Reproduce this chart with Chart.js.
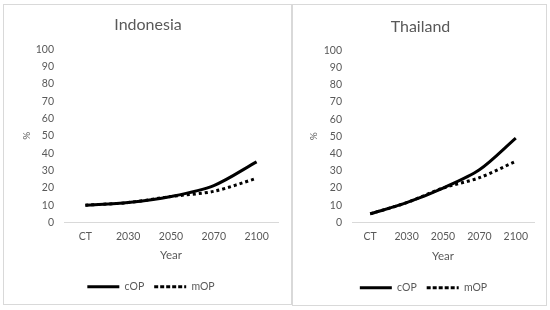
<!DOCTYPE html>
<html>
<head>
<meta charset="utf-8">
<script src="https://cdn.jsdelivr.net/npm/chart.js@4.4.1/dist/chart.umd.min.js"></script>
<style>
    body { margin: 0; background: #ffffff; width: 550px; height: 310px; position: relative; overflow: hidden; }
    .panel { position: absolute; border: 1px solid #d9d9d9; background: #ffffff; }
    #panelLeft { left: 3px; top: 4px; width: 287px; height: 299px; }
    #panelRight { left: 292px; top: 4px; width: 253px; height: 300px; }
    canvas { display: block; }
</style>
</head>
<body>
<div class="panel" id="panelLeft"><canvas id="indonesiaChart" width="287" height="299"></canvas></div>
<div class="panel" id="panelRight"><canvas id="thailandChart" width="253" height="300"></canvas></div>

<script>
// Chart data
const categories = ['CT', '2030', '2050', '2070', '2100'];
const yTicks = [0, 10, 20, 30, 40, 50, 60, 70, 80, 90, 100];

const indonesiaCOP = [10, 11.5, 15, 21.3, 35];
const indonesiaMOP = [10, 11.5, 15, 18, 25.5];

const thailandCOP = [5, 11.5, 20, 30.6, 49];
const thailandMOP = [5, 11.5, 20, 26, 35.5];

const TEXT_GREY = '#595959';
const FONT = 'Lato, "Open Sans", sans-serif';

// Title and legend sit centred on the whole panel, not only on the plot width
const centreOnPanel = {
    id: 'centreOnPanel',
    afterLayout: function(chart, args, opts) {
        if (chart.titleBlock) {
            chart.titleBlock.left += opts.title || 0;
            chart.titleBlock.right += opts.title || 0;
        }
        if (chart.legend) {
            chart.legend.left += opts.legend || 0;
            chart.legend.right += opts.legend || 0;
        }
    }
};

/**
 * Build one country panel chart
 * @param {string} canvasId - canvas element id
 * @param {string} title - chart title
 * @param {number[]} cop - cOP series
 * @param {number[]} mop - mOP series
 * @param {object} lay - layout tweaks for the panel
 */
function initCountryChart(canvasId, title, cop, mop, lay) {
    const ctx = document.getElementById(canvasId);
    if (!ctx) {
        console.error('Canvas not found: ' + canvasId);
        return;
    }

    new Chart(ctx.getContext('2d'), {
        type: 'line',
        data: {
            labels: categories,
            datasets: [
                {
                    label: 'cOP',
                    data: cop,
                    borderColor: '#000000',
                    backgroundColor: '#000000',
                    borderWidth: 3,
                    tension: 0.3,
                    pointRadius: 0,
                    fill: false
                },
                {
                    label: 'mOP',
                    data: mop,
                    borderColor: '#000000',
                    backgroundColor: '#000000',
                    borderWidth: 3,
                    borderDash: [3, 3],
                    tension: 0.3,
                    pointRadius: 0,
                    fill: false
                }
            ]
        },
        plugins: [centreOnPanel],
        options: {
            responsive: false,
            animation: false,
            layout: {
                padding: { left: 0, right: lay.right, top: 0, bottom: 2 }
            },
            plugins: {
                centreOnPanel: { title: 7, legend: 10 },
                title: {
                    display: true,
                    text: title,
                    color: TEXT_GREY,
                    font: { family: FONT, size: 16, weight: 'normal' },
                    padding: { top: lay.titleTop, bottom: lay.titleBottom }
                },
                legend: {
                    display: true,
                    position: 'bottom',
                    labels: {
                        boxWidth: 32,
                        boxHeight: 0,
                        padding: 10,
                        color: TEXT_GREY,
                        font: { family: FONT, size: 10.5 }
                    }
                },
                tooltip: { enabled: false }
            },
            scales: {
                x: {
                    offset: true,
                    grid: { display: false, drawTicks: false, offset: true },
                    border: { display: true, color: '#d9d9d9', width: 1 },
                    ticks: {
                        padding: 8,
                        color: TEXT_GREY,
                        font: { family: FONT, size: 10.5 }
                    },
                    title: {
                        display: true,
                        text: 'Year',
                        color: TEXT_GREY,
                        font: { family: FONT, size: 11.5 },
                        padding: { top: 0, bottom: lay.yearBottom }
                    },
                    afterFit: function(scale) {
                        scale.height = lay.xHeight;
                    }
                },
                y: {
                    min: 0,
                    max: 100,
                    afterBuildTicks: function(scale) {
                        scale.ticks = yTicks.map(v => ({ value: v }));
                    },
                    grid: { display: false, drawTicks: false },
                    border: { display: false },
                    ticks: {
                        padding: 10,
                        color: TEXT_GREY,
                        font: { family: FONT, size: 10.5 }
                    },
                    title: {
                        display: true,
                        text: '%',
                        color: TEXT_GREY,
                        font: { family: FONT, size: 10 },
                        padding: { top: lay.pctTop, bottom: 0 }
                    },
                    afterFit: function(scale) {
                        scale.width = lay.yWidth;
                    }
                }
            }
        }
    });
}

initCountryChart('indonesiaChart', 'Indonesia', indonesiaCOP, indonesiaMOP, {
    right: 13, titleTop: 10, titleBottom: 15, xHeight: 49, yearBottom: 9, yWidth: 60, pctTop: 17
});

initCountryChart('thailandChart', 'Thailand', thailandCOP, thailandMOP, {
    right: 12, titleTop: 12, titleBottom: 14, xHeight: 50, yearBottom: 9, yWidth: 59, pctTop: 15
});
</script>
</body>
</html>
